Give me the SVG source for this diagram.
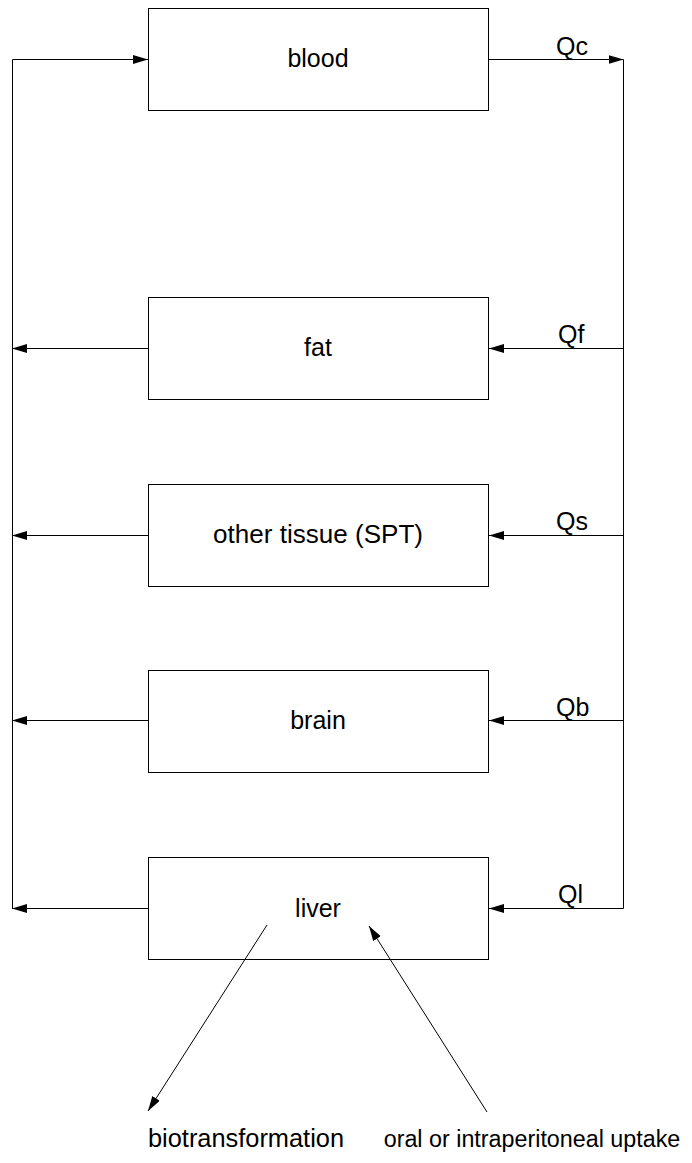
<svg xmlns="http://www.w3.org/2000/svg" width="692" height="1163" viewBox="0 0 692 1163">
<style>
.box{fill:#fff;stroke:#000;stroke-width:1}
.ln{fill:none;stroke:#000;stroke-width:1}
.t{font-family:"Liberation Sans",Arial,sans-serif;font-size:25px;fill:#000}
.c{text-anchor:middle}
</style>
<defs>
<marker id="ah" markerUnits="userSpaceOnUse" markerWidth="16" markerHeight="10" refX="15" refY="4.5" orient="auto">
<path d="M0,0 L15,4.5 L0,9 z" fill="#000"/>
</marker>
</defs>
<g id="blood"><rect class="box" x="148.5" y="8.5" width="340" height="102"/><text class="t c" x="318" y="67">blood</text></g>
<g id="fat"><rect class="box" x="148.5" y="297.5" width="340" height="102"/><text class="t c" x="318" y="356">fat</text></g>
<g id="other"><rect class="box" x="148.5" y="484.5" width="340" height="102"/><text class="t c" x="318" y="543" textLength="210" lengthAdjust="spacingAndGlyphs">other tissue (SPT)</text></g>
<g id="brain"><rect class="box" x="148.5" y="670.5" width="340" height="102"/><text class="t c" x="318" y="729">brain</text></g>
<g id="liver"><rect class="box" x="148.5" y="857.5" width="340" height="102"/><text class="t c" x="318" y="917">liver</text></g>
<g id="biotransformation"><text class="t c" x="246" y="1147" textLength="196" lengthAdjust="spacingAndGlyphs">biotransformation</text></g>
<g id="uptake"><text class="t c" x="532" y="1147" style="font-size:23.3px">oral or intraperitoneal uptake</text></g>
<g id="connectors">
<polyline class="ln" points="12.5,908.5 12.5,59.5 148,59.5" marker-end="url(#ah)"/>
<polyline class="ln" points="488,59.5 623.5,59.5" marker-end="url(#ah)"/>
<line class="ln" x1="623.5" y1="59.5" x2="623.5" y2="908.5"/>
<line class="ln" x1="623.5" y1="348.5" x2="489" y2="348.5" marker-end="url(#ah)"/>
<line class="ln" x1="623.5" y1="535.5" x2="489" y2="535.5" marker-end="url(#ah)"/>
<line class="ln" x1="623.5" y1="720.5" x2="489" y2="720.5" marker-end="url(#ah)"/>
<line class="ln" x1="623.5" y1="908.5" x2="489" y2="908.5" marker-end="url(#ah)"/>
<line class="ln" x1="148" y1="348.5" x2="12" y2="348.5" marker-end="url(#ah)"/>
<line class="ln" x1="148" y1="535.5" x2="12" y2="535.5" marker-end="url(#ah)"/>
<line class="ln" x1="148" y1="720.5" x2="12" y2="720.5" marker-end="url(#ah)"/>
<line class="ln" x1="148" y1="908.5" x2="12" y2="908.5" marker-end="url(#ah)"/>
<line class="ln" x1="267" y1="925" x2="148" y2="1111" marker-end="url(#ah)"/>
<line class="ln" x1="487" y1="1112" x2="369" y2="926" marker-end="url(#ah)"/>
<text class="t" x="556" y="55">Qc</text>
<text class="t" x="558" y="343">Qf</text>
<text class="t" x="556" y="530">Qs</text>
<text class="t" x="556" y="716">Qb</text>
<text class="t" x="558" y="903">Ql</text>
</g>
</svg>
